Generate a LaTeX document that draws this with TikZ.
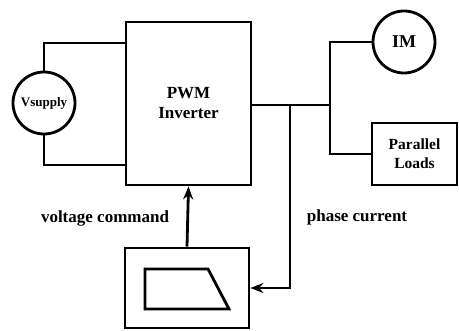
\documentclass[tikz,border=0pt]{standalone}
\usepackage{fontspec}
\setmainfont{Liberation Serif}
\usepackage{tikz}
\usetikzlibrary{arrows.meta,positioning}

\begin{document}
\begin{tikzpicture}[x=1pt,y=-1pt,>={Stealth[length=13pt,width=10pt]},line width=2.8pt,
                    font=\bfseries\fontsize{17}{20}\selectfont]
  \tikzstyle{every node}=[inner sep=0pt]
  \tikzstyle{blk}=[draw,rectangle,align=center]
  \tikzstyle{src}=[draw,circle,minimum size=62pt]

  \useasboundingbox (0,0) rectangle (459,331);

  \node[blk,minimum width=125pt,minimum height=163pt] (pwm) at (188.5,103.5) {PWM\\Inverter};
  \node[src,font=\bfseries\fontsize{13}{14}\selectfont] (vs) at (44,103) {Vsupply};
  \node[src,font=\bfseries\fontsize{18}{20}\selectfont] (im) at (404,42) {IM};
  \node[blk,minimum width=85pt,minimum height=62pt,
        font=\bfseries\fontsize{15.5}{19}\selectfont] (pl) at (414.5,154) {Parallel\\Loads};
  \node[blk,minimum width=124pt,minimum height=80pt] (ctl) at (187,288) {};
  \node (vc) at (105,218) {voltage command};
  \node (pc) at (357,217) {phase current};

  \coordinate (vtop) at (44,43);
  \coordinate (vbot) at (44,165);
  \coordinate (bus)  at (330,105);
  \coordinate (tap)  at (290,105);
  \coordinate (fb)   at (290,288);

  % supply side
  \draw (vs.north) -- (vtop) -- (vtop -| pwm.west);
  \draw (vs.south) -- (vbot) -- (vbot -| pwm.west);

  % load side
  \draw (pwm.east |- bus) -- (bus);
  \draw (bus) |- (im.west);
  \draw (bus) |- (pl.west);

  % feedback and command
  \draw[->] (tap) -- (fb) -- (ctl.east |- fb);
  \draw[->] (ctl.north) -- (pwm.south);

  % reference waveform
  \draw (145,269) -- (208,269) -- (229,309) -- (145,309) -- cycle;
\end{tikzpicture}
\end{document}
